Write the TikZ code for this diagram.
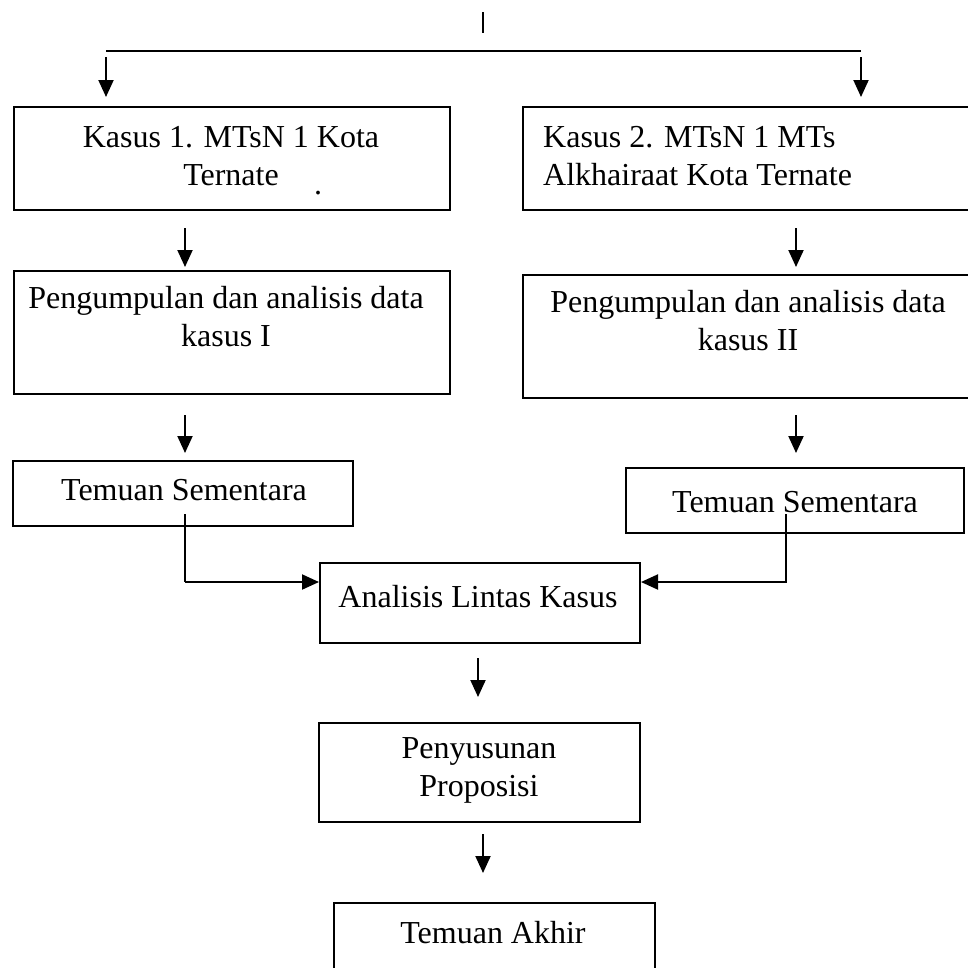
\documentclass[tikz,border=0pt]{standalone}
\usepackage{fontspec}
\setmainfont{Liberation Serif}
\usetikzlibrary{arrows.meta}
\tikzset{
  box/.style={draw, line width=2pt, inner sep=0pt, anchor=north west},
  txt/.style={inner sep=0pt, font=\fontsize{32}{38}\selectfont, align=center},
  arr/.style={line width=2pt, -{Triangle[length=17pt,width=15pt]}},
  ln/.style={line width=2pt},
}
\begin{document}
\begin{tikzpicture}[x=1pt,y=-1pt]
\clip (0,0) rectangle (968,967);
\fill[white] (0,0) rectangle (968,967);

% boxes
\node[box, minimum width=436pt, minimum height=103pt] (b1) at (13,106) {};
\node[box, minimum width=480pt, minimum height=103pt] (b2) at (522,106) {};
\node[box, minimum width=436pt, minimum height=123pt] (b3) at (13,270) {};
\node[box, minimum width=480pt, minimum height=123pt] (b4) at (522,274) {};
\node[box, minimum width=340pt, minimum height=65pt] (b5) at (12,460) {};
\node[box, minimum width=338pt, minimum height=65pt] (b6) at (625,467) {};
\node[box, minimum width=320pt, minimum height=80pt] (b7) at (319,562) {};
\node[box, minimum width=321pt, minimum height=99pt] (b8) at (318,722) {};
\node[box, minimum width=321pt, minimum height=100pt] (b9) at (333,902) {};

% texts
\node[txt] (t1) at (231,156.5) {Kasus 1. MTsN 1 Kota\\Ternate};
\node[txt, align=left, anchor=west] (t2) at (543,156.5) {Kasus 2. MTsN 1 MTs\\Alkhairaat Kota Ternate};
\node[txt] (t3) at (226,317) {Pengumpulan dan analisis data\\kasus I};
\node[txt] (t4) at (748,321) {Pengumpulan dan analisis data\\kasus II};
\node[txt] (t5) at (184,490) {Temuan Sementara};
\node[txt] (t6) at (795,502) {Temuan Sementara};
\node[txt] (t7) at (478,597) {Analisis Lintas Kasus};
\node[txt] (t8) at (479,770) {Penyusunan\\Proposisi};
\node[txt] (t9) at (493,933) {Temuan Akhir};
\node[txt, anchor=base] (dot) at (318,194) {.};

% coordinates
\coordinate (tk1) at (483,12); \coordinate (tk2) at (483,33);
\coordinate (hl) at (106,51); \coordinate (hr) at (861,51);
\coordinate (a1s) at (106,57); \coordinate (a1e) at (106,97);
\coordinate (a2s) at (861,57); \coordinate (a2e) at (861,97);
\coordinate (a3s) at (185,228); \coordinate (a3e) at (185,267);
\coordinate (a4s) at (796,228); \coordinate (a4e) at (796,267);
\coordinate (a5s) at (185,415); \coordinate (a5e) at (185,453);
\coordinate (a6s) at (796,415); \coordinate (a6e) at (796,453);
\coordinate (c1) at (185,514); \coordinate (j1) at (185,582);
\coordinate (c2) at (786,514); \coordinate (j2) at (786,582);
\coordinate (a7s) at (478,658); \coordinate (a7e) at (478,697);
\coordinate (a8s) at (483,834); \coordinate (a8e) at (483,873);

% connectors
\draw[line width=1.5pt] (tk1) -- (tk2);
\draw[ln] (hl) -- (hr);
\draw[arr] (a1s) -- (a1e);
\draw[arr] (a2s) -- (a2e);
\draw[arr] (a3s) -- (a3e);
\draw[arr] (a4s) -- (a4e);
\draw[arr] (a5s) -- (a5e);
\draw[arr] (a6s) -- (a6e);
\draw[ln] (c1) -- (j1);
\draw[arr] (j1) -- (b7.west |- j1);
\draw[arr] (c2) -- (j2) -- (b7.east |- j2);
\draw[arr] (a7s) -- (a7e);
\draw[arr] (a8s) -- (a8e);
\end{tikzpicture}
\end{document}
